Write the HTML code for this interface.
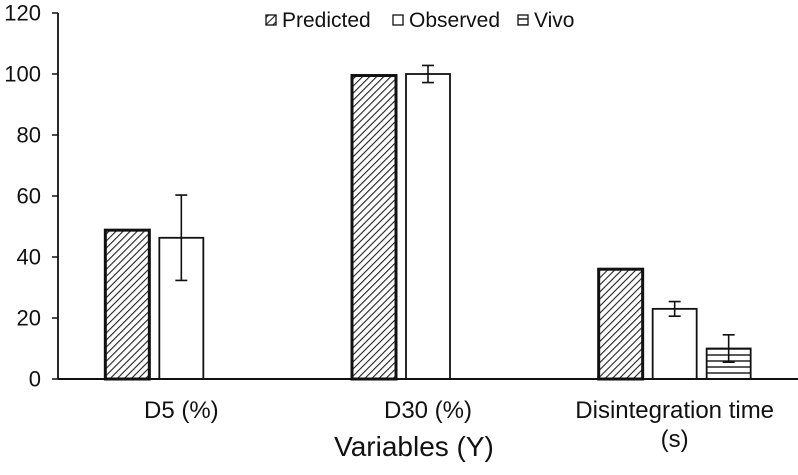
<!DOCTYPE html>
<html><head><meta charset="utf-8"><style>
body{margin:0;background:#fff;}
svg{display:block;font-family:"Liberation Sans",Arial,sans-serif;}
</style></head><body>
<svg id="chart" width="798" height="475" viewBox="0 0 798 475" xmlns="http://www.w3.org/2000/svg">
<defs>
<pattern id="hatch" patternUnits="userSpaceOnUse" width="5" height="5" patternTransform="rotate(45)">
<rect width="5" height="5" fill="#fff"/><line x1="0" y1="0" x2="0" y2="5" stroke="#222" stroke-width="2.2"/>
</pattern>
<pattern id="horiz" patternUnits="userSpaceOnUse" width="6" height="6">
<rect width="6" height="6" fill="#fff"/><line x1="0" y1="1" x2="6" y2="1" stroke="#222" stroke-width="1.5"/>
</pattern>
</defs>
<g id="plot"></g>
</svg>
<script>
const categories=["D5 (%)","D30 (%)","Disintegration time|(s)"];
const seriesNames=["Predicted","Observed","Vivo"];
const predicted=[48.8,99.5,36];
const observed=[46.3,100,23];
const observedErr=[14,2.8,2.4];
const vivo=[null,null,10];
const vivoErr=[null,null,4.5];
const yTicks=[0,20,40,60,80,100,120];

const NS="http://www.w3.org/2000/svg";
const g=document.getElementById('plot');
const x0=58,x1=798,yTop=13,yBot=379,yMax=120;
const y=v=>yBot-(v/yMax)*(yBot-yTop);
const groupW=(x1-x0)/categories.length;
const cx=i=>x0+groupW*(i+0.5);
function el(t,a){const e=document.createElementNS(NS,t);for(const k in a)e.setAttribute(k,a[k]);g.appendChild(e);return e;}
const barW=44,gap=10;
const fills=["url(#hatch)","#fff","url(#horiz)"];
const sw=[3,1.8,1.8];
const series=[predicted,observed,vivo];
const errs=[null,observedErr,vivoErr];
categories.forEach((c,i)=>{
  series.forEach((s,j)=>{
    if(s[i]==null)return;
    const bx=cx(i)-(barW*1.5+gap)+j*(barW+gap);
    const r=el('rect',{x:bx,y:y(s[i]),width:barW,height:yBot-y(s[i]),fill:fills[j],stroke:'#111','stroke-width':sw[j]});
    
    
    if(errs[j]&&errs[j][i]!=null){
      const m=bx+barW/2,hi=y(s[i]+errs[j][i]),lo=y(s[i]-errs[j][i]);
      const eb=el('path',{d:`M${m},${hi}V${lo}M${m-6},${hi}H${m+6}M${m-6},${lo}H${m+6}`,stroke:'#111','stroke-width':1.6,fill:'none'});
      
      
    }
  });
  const parts=c.split('|');
  parts.forEach((p,k)=>{
    const t=el('text',{x:cx(i),y:418+k*29,'text-anchor':'middle','font-size':24,fill:'#111'});
    t.textContent=p;
    
    
  });
});
yTicks.forEach(v=>{
  const tk=el('line',{x1:x0-6,x2:x0,y1:y(v),y2:y(v),stroke:'#111','stroke-width':1.5});
  
  
  const t=el('text',{x:41,y:y(v)+7.5,'text-anchor':'end','font-size':22,fill:'#111'});
  t.textContent=v;
  
  
});
const ya=el('line',{x1:x0,x2:x0,y1:yTop,y2:yBot,stroke:'#111','stroke-width':1.8});


const xa=el('line',{x1:x0,x2:x1,y1:yBot,y2:yBot,stroke:'#111','stroke-width':2});


const xt=el('text',{x:414,y:456,'text-anchor':'middle','font-size':28,fill:'#111'});
xt.textContent='Variables (Y)';


const lx=[266,393,518];
seriesNames.forEach((n,j)=>{
  const r=el('rect',{x:lx[j],y:15,width:10,height:10,fill:fills[j],stroke:'#111','stroke-width':1.3});
  
  
  const t=el('text',{x:lx[j]+16,y:27,'font-size':21,fill:'#111'});
  t.textContent=n;
  
  
});
</script>
</body></html>
